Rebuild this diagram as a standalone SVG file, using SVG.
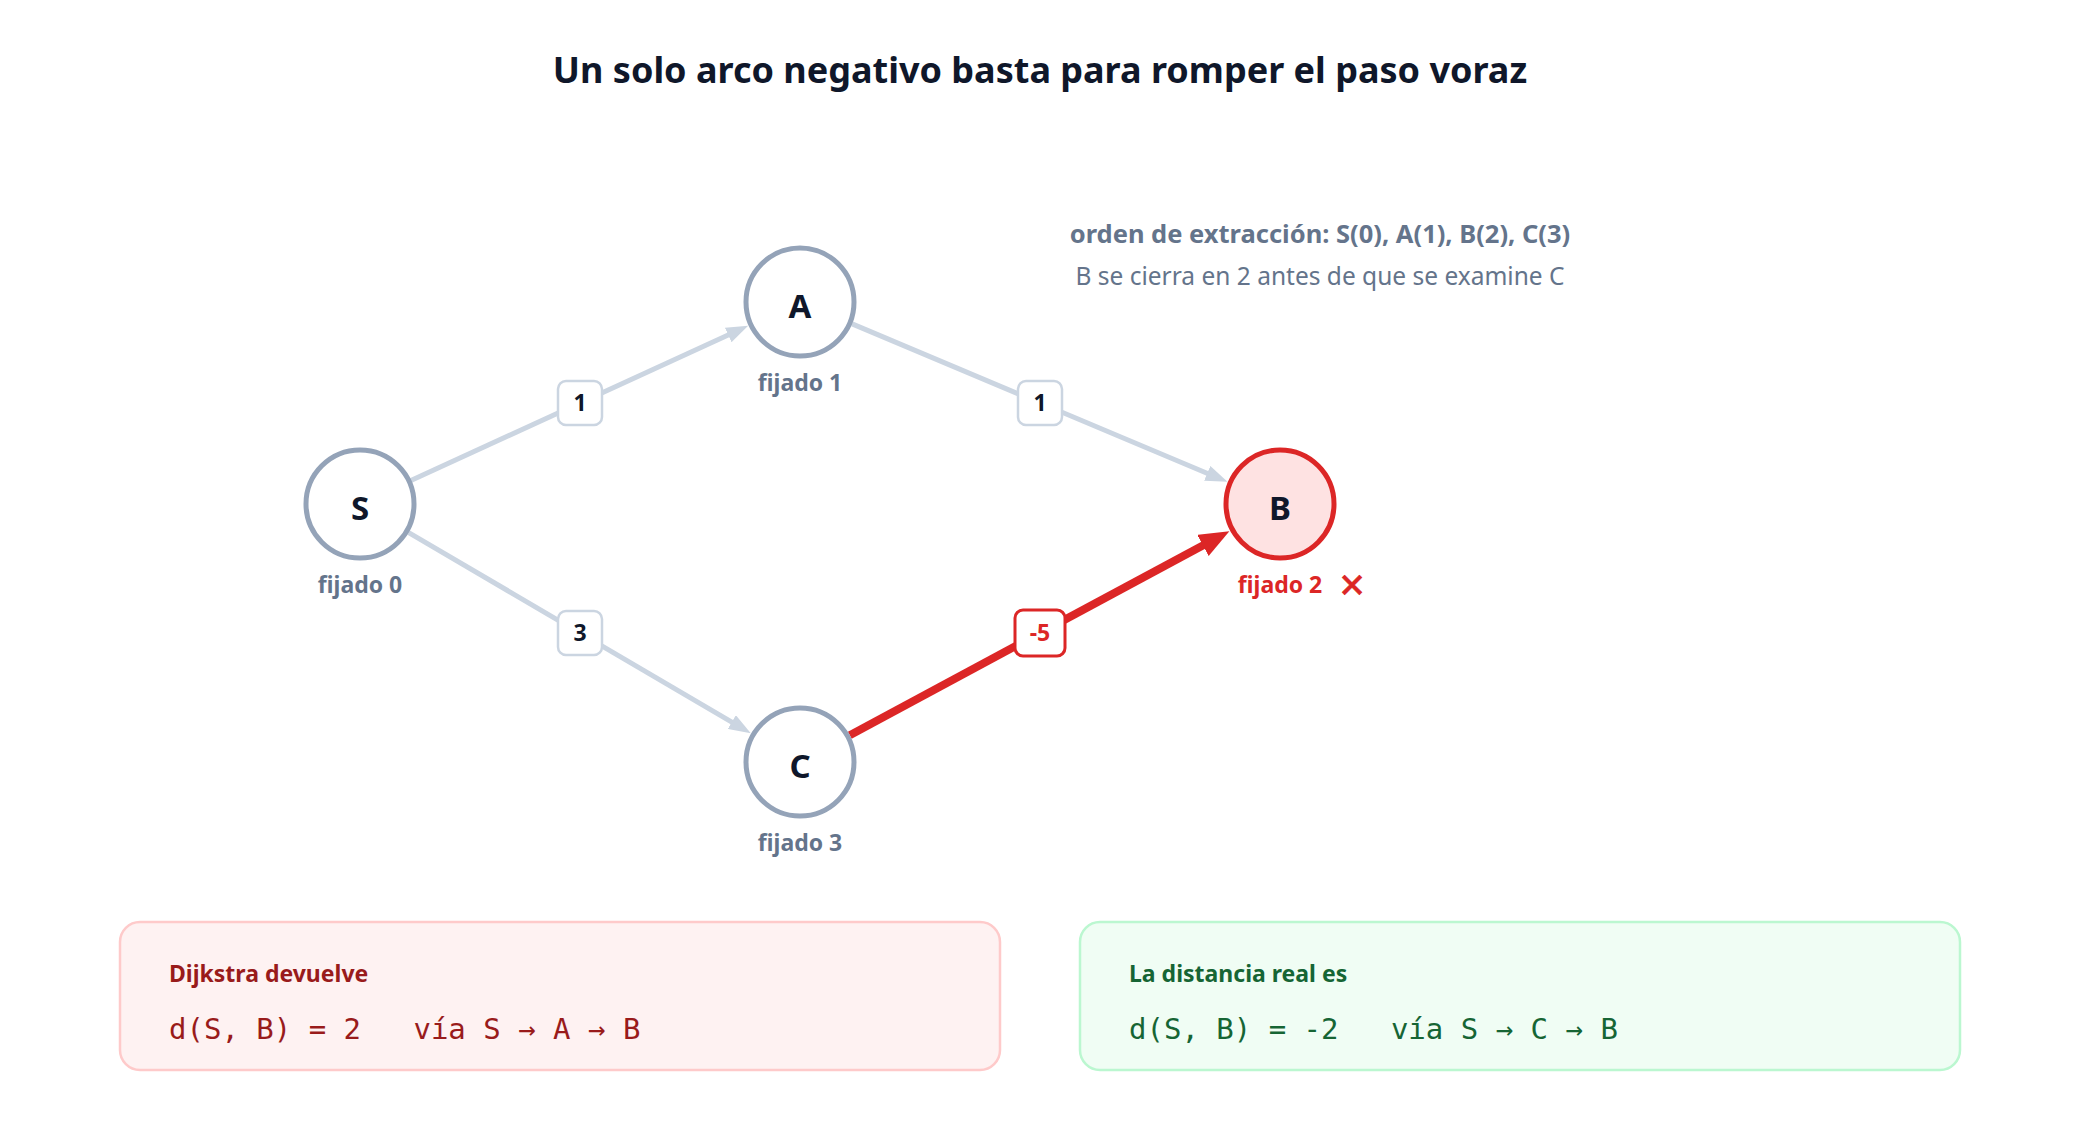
<svg xmlns="http://www.w3.org/2000/svg" width="2080" height="1132" viewBox="0 0 2080 1132">
<style>
  .title { font-family: "Noto Sans", "Open Sans", sans-serif; font-weight: 700; font-size: 36px; fill: #0f172a; text-anchor: middle; }
  .node { fill: #ffffff; stroke: #94a3b8; stroke-width: 5; }
  .node-bad { fill: #fee2e2; stroke: #dc2626; stroke-width: 5; }
  .letter { font-family: "Noto Sans", "Open Sans", sans-serif; font-weight: 700; font-size: 33px; fill: #0f172a; text-anchor: middle; }
  .fix { font-family: "Noto Sans", "Open Sans", sans-serif; font-weight: 700; font-size: 23px; fill: #64748b; text-anchor: middle; }
  .fix-bad { fill: #dc2626; }
  .edge { stroke: #cbd5e1; stroke-width: 5; fill: none; }
  .edge-neg { stroke: #dc2626; stroke-width: 8; fill: none; }
  .wbox { fill: #ffffff; stroke: #cbd5e1; stroke-width: 2.5; }
  .wbox-neg { fill: #ffffff; stroke: #dc2626; stroke-width: 3; }
  .wtxt { font-family: "Noto Sans", "Open Sans", sans-serif; font-weight: 700; font-size: 23px; fill: #0f172a; text-anchor: middle; }
  .wtxt-neg { fill: #dc2626; }
  .note1 { font-family: "Noto Sans", "Open Sans", sans-serif; font-weight: 700; font-size: 25.5px; fill: #64748b; text-anchor: middle; }
  .note2 { font-family: "Noto Sans", "Open Sans", sans-serif; font-weight: 400; font-size: 24.5px; fill: #64748b; text-anchor: middle; }
  .panel-bad { fill: #fef2f2; stroke: #fecaca; stroke-width: 2.5; }
  .panel-good { fill: #f0fdf4; stroke: #bbf7d0; stroke-width: 2.5; }
  .phead { font-family: "Noto Sans", "Open Sans", sans-serif; font-weight: 700; font-size: 23px; }
  .pmono { font-family: "DejaVu Sans Mono", "Liberation Mono", monospace; font-size: 29px; }
  .red { fill: #991b1b; }
  .green { fill: #166534; }
</style>
<defs>
  <marker id="arrow-gray" markerUnits="userSpaceOnUse" markerWidth="22" markerHeight="16" refX="3" refY="8" orient="auto">
    <path d="M0,0 L22,8 L0,16 Z" fill="#cbd5e1"/>
  </marker>
  <marker id="arrow-red" markerUnits="userSpaceOnUse" markerWidth="30" markerHeight="24" refX="3" refY="12" orient="auto">
    <path d="M0,0 L30,12 L0,24 Z" fill="#dc2626"/>
  </marker>
</defs>
<rect x="0" y="0" width="2080" height="1132" fill="#ffffff"/>

<text class="title" x="1040" y="83">Un solo arco negativo basta para romper el paso voraz</text>

<g id="connectors">
  <line class="edge" x1="410.9" y1="480.6" x2="730.9" y2="333.7" marker-end="url(#arrow-gray)"/>
  <line class="edge" x1="408.7" y1="532.6" x2="734.4" y2="723.6" marker-end="url(#arrow-gray)"/>
  <line class="edge" x1="852.1" y1="323.9" x2="1210.0" y2="474.5" marker-end="url(#arrow-gray)"/>
  <line class="edge-neg" x1="849.8" y1="735.2" x2="1205.6" y2="544.0" marker-end="url(#arrow-red)"/>
  <g id="w-SA">
    <rect class="wbox" x="558" y="381" width="44" height="44" rx="8"/>
    <text class="wtxt" x="580" y="411">1</text>
  </g>
  <g id="w-AB">
    <rect class="wbox" x="1018" y="381" width="44" height="44" rx="8"/>
    <text class="wtxt" x="1040" y="411">1</text>
  </g>
  <g id="w-SC">
    <rect class="wbox" x="558" y="611" width="44" height="44" rx="8"/>
    <text class="wtxt" x="580" y="641">3</text>
  </g>
  <g id="w-CB">
    <rect class="wbox-neg" x="1015" y="610" width="50" height="46" rx="8"/>
    <text class="wtxt wtxt-neg" x="1040" y="641">-5</text>
  </g>
</g>

<g id="node-S">
  <circle class="node" cx="360" cy="504" r="54"/>
  <text class="letter" x="360" y="520">S</text>
  <text class="fix" x="360" y="593">fijado 0</text>
</g>
<g id="node-A">
  <circle class="node" cx="800" cy="302" r="54"/>
  <text class="letter" x="800" y="318">A</text>
  <text class="fix" x="800" y="391">fijado 1</text>
</g>
<g id="node-C">
  <circle class="node" cx="800" cy="762" r="54"/>
  <text class="letter" x="800" y="778">C</text>
  <text class="fix" x="800" y="851">fijado 3</text>
</g>
<g id="node-B">
  <circle class="node-bad" cx="1280" cy="504" r="54"/>
  <text class="letter" x="1280" y="520">B</text>
  <text class="fix fix-bad" x="1280" y="593">fijado 2</text>
  <text x="1352" y="597" font-family="DejaVu Sans, sans-serif" font-size="33" fill="#dc2626" stroke="#dc2626" stroke-width="0.8" text-anchor="middle">✕</text>
</g>

<g id="note">
  <text class="note1" x="1320" y="243">orden de extracción: S(0), A(1), B(2), C(3)</text>
  <text class="note2" x="1320" y="285">B se cierra en 2 antes de que se examine C</text>
</g>

<g id="panel-dijkstra">
  <rect class="panel-bad" x="120" y="922" width="880" height="148" rx="20"/>
  <text class="phead red" x="169" y="982">Dijkstra devuelve</text>
  <text class="pmono red" x="169" y="1039" xml:space="preserve">d(S, B) = 2   vía S → A → B</text>
</g>
<g id="panel-real">
  <rect class="panel-good" x="1080" y="922" width="880" height="148" rx="20"/>
  <text class="phead green" x="1129" y="982">La distancia real es</text>
  <text class="pmono green" x="1129" y="1039" xml:space="preserve">d(S, B) = -2   vía S → C → B</text>
</g>
</svg>
